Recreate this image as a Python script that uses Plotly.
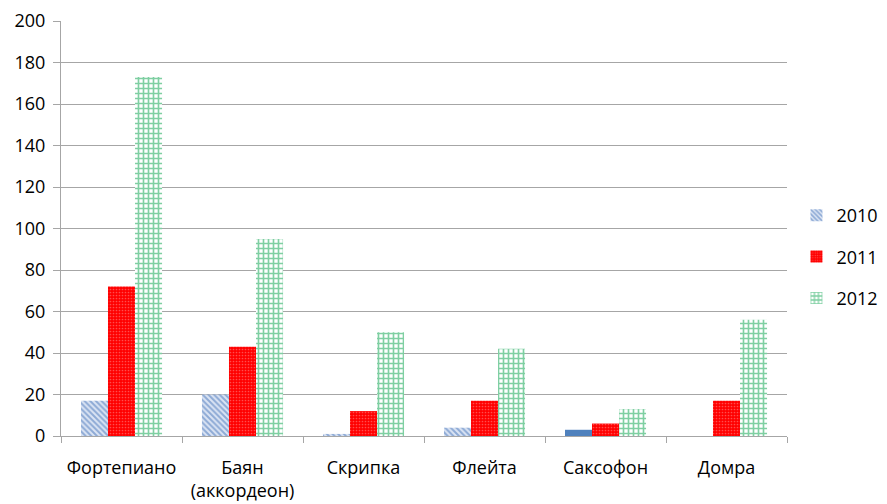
import plotly.graph_objects as go

categories = ["Фортепиано", "Баян<br>(аккордеон)", "Скрипка", "Флейта", "Саксофон", "Домра"]
v2010 = [17, 20, 1, 4, 3, 0]
v2011 = [72, 43, 12, 17, 6, 17]
v2012 = [173, 95, 50, 42, 13, 56]
years = ["2010", "2011", "2012"]

font_family = "Open Sans, Liberation Sans, sans-serif"

fig = go.Figure()
fig.add_trace(go.Bar(
    x=categories, y=v2010, name=years[0], legendgroup="a",
    marker=dict(color="#4f81bd", line=dict(width=0),
                pattern=dict(shape=["\\", "\\", "\\", "\\", "", "\\"], fgcolor="#3f6fb8",
                             bgcolor="#dbe4f3", size=4, solidity=0.5)),
))
fig.add_trace(go.Bar(
    x=categories, y=v2011, name=years[1], legendgroup="b",
    marker=dict(color="#ff0000", line=dict(width=0),
                pattern=dict(shape=".", fgcolor="#ff9a9a", bgcolor="#ff0000",
                             size=3, solidity=0.25)),
))
fig.add_trace(go.Bar(
    x=categories, y=v2012, name=years[2], legendgroup="c",
    marker=dict(color="#00b050", line=dict(width=0),
                pattern=dict(shape="+", fgcolor="#00a046", bgcolor="#ffffff",
                             size=5, solidity=0.55)),
))

# the page body adds an 8px offset, so the figure is sized to the visible area
fig.update_layout(
    width=879, height=496,
    margin=dict(l=53, r=100, t=13, b=68),
    paper_bgcolor="white", plot_bgcolor="white",
    barmode="group", bargap=0.33, bargroupgap=0,
    font=dict(family=font_family, size=18, color="#000000"),
    legend=dict(xref="container", yref="container", x=0.897, y=0.498,
                yanchor="middle", xanchor="left",
                font=dict(size=18), tracegroupgap=15,
                traceorder="grouped", itemwidth=30),
    showlegend=True,
)
fig.update_yaxes(range=[0, 200], dtick=20, showgrid=True, gridcolor="#a6a6a6", gridwidth=1,
                 showline=True, linecolor="#a6a6a6", linewidth=1,
                 ticks="outside", ticklen=7, tickcolor="#a6a6a6", zeroline=False,
                 tickfont=dict(size=18), automargin=False, ticklabeloverflow="allow",
                 ticklabelstandoff=4)
fig.update_xaxes(showline=True, linecolor="#a6a6a6", linewidth=1,
                 ticks="outside", ticklen=6, tickcolor="#a6a6a6", tickangle=0,
                 tickson="boundaries", tickfont=dict(size=18), automargin=False,
                 ticklabeloverflow="allow", ticklabelstandoff=15)

fig.write_html("out.html")
